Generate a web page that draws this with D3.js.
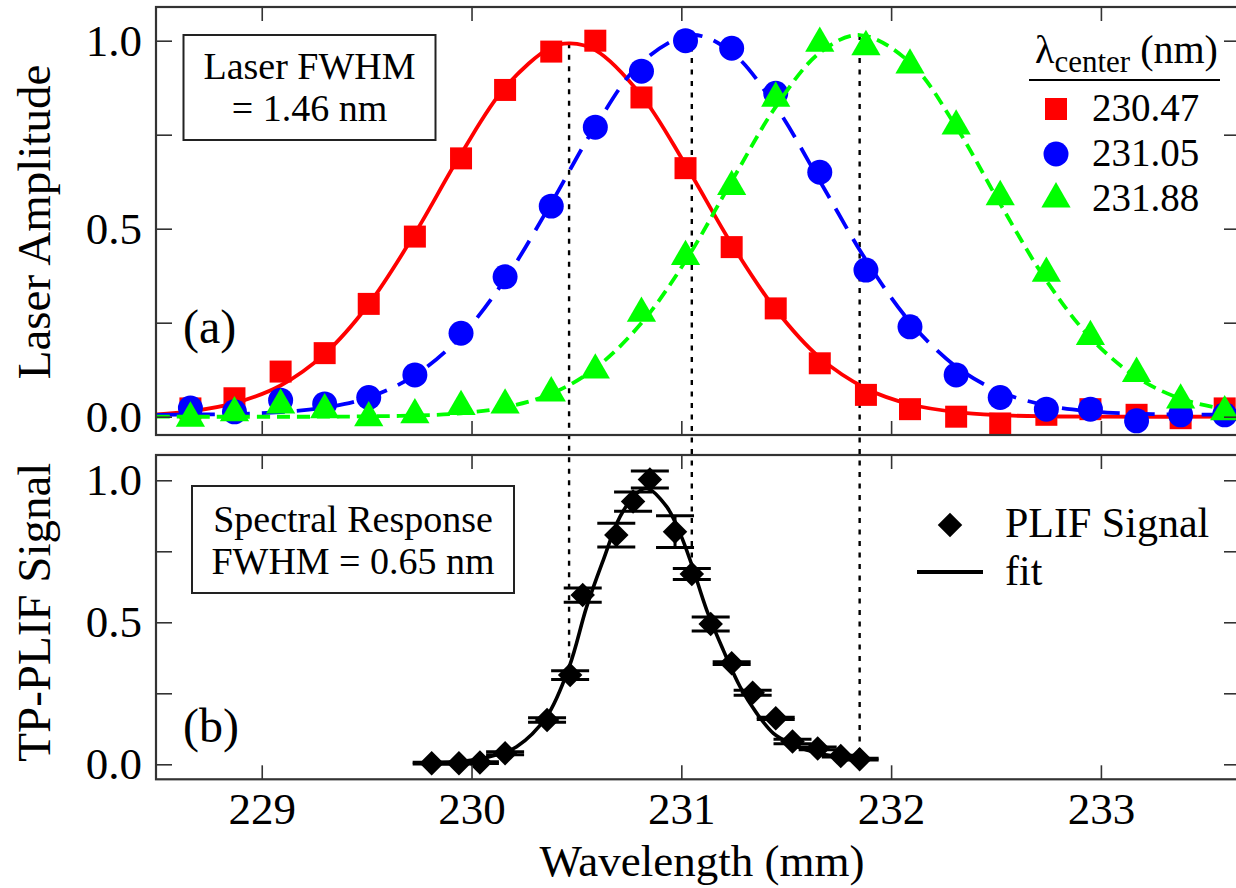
<!DOCTYPE html>
<html><head><meta charset="utf-8">
<script src="https://cdn.jsdelivr.net/npm/d3@7"></script>
<style>
body{margin:0;background:#fff}
svg{display:block}
text{font-family:"Liberation Serif","Times New Roman",serif;fill:#000}
</style>
</head><body>
<svg id="chart" width="1236" height="888"></svg>
<script>
// ---------- data ----------
const wavelengths = [228.66,228.87,229.09,229.30,229.51,229.73,229.95,230.16,230.38,230.59,230.81,231.02,
                     231.24,231.45,231.66,231.88,232.09,232.31,232.52,232.74,232.95,233.17,233.38,233.59];
const laser23047 = [0.022,0.049,0.120,0.169,0.300,0.479,0.687,0.869,0.971,1.000,0.849,0.661,
                    0.451,0.288,0.142,0.058,0.020,0.000,-0.018,0.005,0.020,0.005,-0.004,0.022];
const laser23105 = [0.023,0.013,0.044,0.034,0.051,0.111,0.222,0.372,0.560,0.770,0.919,1.000,
                    0.980,0.860,0.650,0.390,0.239,0.111,0.051,0.020,0.020,-0.011,0.005,0.005];
const laser23188 = [-0.004,0.010,0.031,0.018,-0.003,0.005,0.027,0.031,0.063,0.124,0.275,0.426,
                    0.612,0.847,0.993,0.984,0.935,0.773,0.585,0.381,0.213,0.115,0.044,0.013];

// fitted curves, sampled along the drawn lines [wavelength, amplitude]
const fit23047 = [[228.50,0.006],[228.66,0.014],[228.87,0.036],[229.09,0.083],[229.30,0.167],[229.51,0.299],
  [229.73,0.487],[229.95,0.699],[230.16,0.876],[230.38,0.983],[230.47,0.993],[230.59,0.975],[230.81,0.854],
  [231.02,0.670],[231.24,0.459],[231.45,0.285],[231.66,0.157],[231.88,0.075],[232.09,0.033],[232.31,0.012],
  [232.52,0.004],[232.74,0.001],[232.95,0.000],[233.70,0.000]];
const fit23105 = [[228.50,0.005],[228.66,0.006],[228.87,0.007],[229.09,0.012],[229.30,0.024],[229.51,0.051],
  [229.73,0.110],[229.95,0.214],[230.16,0.365],[230.38,0.568],[230.59,0.772],[230.81,0.942],[231.05,1.015],
  [231.24,0.969],[231.45,0.825],[231.66,0.627],[231.88,0.417],[232.09,0.252],[232.31,0.133],[232.52,0.066],
  [232.74,0.030],[232.95,0.014],[233.17,0.008],[233.38,0.006],[233.70,0.005]];
const fit23188 = [[228.50,0.000],[229.30,0.000],[229.51,0.001],[229.73,0.003],[229.95,0.009],[230.16,0.025],
  [230.38,0.061],[230.59,0.129],[230.81,0.249],[231.02,0.414],[231.24,0.626],[231.45,0.824],[231.66,0.968],
  [231.85,1.015],[232.09,0.942],[232.31,0.771],[232.52,0.566],[232.74,0.362],[232.95,0.210],[233.17,0.105],
  [233.38,0.048],[233.59,0.020],[233.70,0.012]];

const plifWavelength = [229.81,229.94,230.04,230.16,230.36,230.47,230.53,230.69,230.77,230.85,
                        230.97,231.05,231.14,231.24,231.34,231.45,231.53,231.65,231.76,231.85];
const plifSignal = [0.004,0.004,0.006,0.039,0.156,0.314,0.596,0.807,0.925,1.003,
                    0.819,0.670,0.494,0.356,0.252,0.162,0.080,0.056,0.029,0.018];
const plifError  = [0.003,0.003,0.003,0.005,0.008,0.015,0.025,0.042,0.034,0.030,
                    0.056,0.019,0.025,0.005,0.009,0.004,0.008,0.005,0.003,0.003];
const plifFit = [[229.81,0.006],[229.94,0.010],[230.056,0.021],[230.215,0.062],[230.358,0.168],[230.466,0.344],
  [230.549,0.555],[230.628,0.719],[230.708,0.872],[230.787,0.954],[230.835,0.972],[230.930,0.907],
  [230.994,0.813],[231.050,0.702],[231.121,0.543],[231.200,0.402],[231.280,0.273],[231.359,0.180],
  [231.439,0.109],[231.518,0.074],[231.598,0.050],[231.693,0.033],[231.789,0.021],[231.85,0.017]];

const centerLineWl = [230.465, 231.05, 231.85];
const centerLineTop = [0.993, 1.015, 1.015];
const centerLineBottom = [0.34, 0.70, 0.017];

const legendLabels = ["230.47","231.05","231.88"];
const xTicks = [229,230,231,232,233];
const yTicks = [0,0.25,0.5,0.75,1.0];

// ---------- layout ----------
const svg = d3.select("#chart");
const L = 156, R = 1240;
const topP = {t:7, b:435};
const botP = {t:455, b:779.3};

const x = d3.scaleLinear().domain([228.496, 233.663]).range([L, R]);
const yA = d3.scaleLinear().domain([-0.0487, 1.0896]).range([topP.b, topP.t]);
const yB = d3.scaleLinear().domain([-0.0528, 1.089]).range([botP.b, botP.t]);

const defs = svg.append("defs");
defs.append("clipPath").attr("id","clipA").append("rect")
  .attr("x",L).attr("y",topP.t).attr("width",R-L).attr("height",topP.b-topP.t);
defs.append("clipPath").attr("id","clipB").append("rect")
  .attr("x",L).attr("y",botP.t).attr("width",R-L).attr("height",botP.b-botP.t);

const fmt = d => (Math.abs(d*2 - Math.round(d*2)) < 1e-9) ? d3.format(".1f")(d) : "";

function panelAxes(p, y, showX) {
  const g = svg.append("g");
  const la = g.append("g").attr("transform",`translate(${L},0)`)
    .call(d3.axisLeft(y).tickValues(yTicks).tickSizeInner(-16).tickSizeOuter(0).tickPadding(14).tickFormat(fmt));
  la.selectAll("text").style("font-size","45px").style("font-family","Liberation Serif").attr("fill","#000");
  g.append("g").attr("transform",`translate(${R},0)`)
    .call(d3.axisRight(y).tickValues(yTicks).tickSizeInner(-16).tickSizeOuter(0).tickFormat(""));
  g.append("g").attr("transform",`translate(0,${p.t})`)
    .call(d3.axisTop(x).tickValues(xTicks).tickSizeInner(-14).tickSizeOuter(0).tickFormat(""));
  const ba = g.append("g").attr("transform",`translate(0,${p.b})`)
    .call(d3.axisBottom(x).tickValues(xTicks).tickSizeInner(-14).tickSizeOuter(0).tickPadding(13)
      .tickFormat(showX ? d3.format("d") : ""));
  ba.selectAll("text").style("font-size","45px").style("font-family","Liberation Serif").attr("fill","#000");
  g.selectAll(".domain").remove();
  g.selectAll(".tick line").attr("stroke","#333").attr("stroke-width",1.6);
  g.append("rect").attr("x",L).attr("y",p.t).attr("width",R-L).attr("height",p.b-p.t)
    .attr("fill","none").attr("stroke","#333").attr("stroke-width",2.2);
}

// dotted centre lines (spanning both panels)
centerLineWl.forEach((w,i) => {
  svg.append("line")
    .attr("x1",x(w)).attr("x2",x(w))
    .attr("y1",yA(centerLineTop[i])).attr("y2",yB(centerLineBottom[i]))
    .attr("stroke","#000").attr("stroke-width",2.4).attr("stroke-dasharray","5,6.5");
});

// ---------- panel (a) ----------
const gA = svg.append("g").attr("clip-path","url(#clipA)");
const lineA = d3.line().x(d=>x(d[0])).y(d=>yA(d[1])).curve(d3.curveCatmullRom.alpha(0.5));
const series = [
  {vals:laser23047, fit:fit23047, color:"#ff0000", dash:null, sym:d3.symbolSquare, size:484},
  {vals:laser23105, fit:fit23105, color:"#0000ff", dash:"23,12", sym:d3.symbolCircle, size:490},
  {vals:laser23188, fit:fit23188, color:"#00ff00", dash:"13,7", sym:d3.symbolTriangle, size:370}
];
series.forEach(s => {
  gA.append("path").datum(s.fit).attr("d",lineA).attr("fill","none")
    .attr("stroke",s.color).attr("stroke-width",3.8).attr("stroke-dasharray",s.dash);
  gA.selectAll(null).data(wavelengths.map((w,i)=>[w,s.vals[i]])).enter().append("path")
    .attr("d",d3.symbol().type(s.sym).size(s.size))
    .attr("transform",d=>`translate(${x(d[0])},${yA(d[1])})`)
    .attr("fill",s.color);
});

// ---------- panel (b) ----------
const gB = svg.append("g").attr("clip-path","url(#clipB)");
const lineB = d3.line().x(d=>x(d[0])).y(d=>yB(d[1])).curve(d3.curveCatmullRom.alpha(0.5));
gB.append("path").datum(plifFit).attr("d",lineB).attr("fill","none")
  .attr("stroke","#000").attr("stroke-width",3.6);
const plif = plifWavelength.map((w,i)=>({w, v:plifSignal[i], e:plifError[i]}));
const eb = gB.selectAll(null).data(plif).enter().append("g");
const cap = 19;
eb.append("line").attr("x1",d=>x(d.w)).attr("x2",d=>x(d.w))
  .attr("y1",d=>yB(d.v-d.e)).attr("y2",d=>yB(d.v+d.e)).attr("stroke","#000").attr("stroke-width",3);
eb.append("line").attr("x1",d=>x(d.w)-cap).attr("x2",d=>x(d.w)+cap)
  .attr("y1",d=>yB(d.v+d.e)).attr("y2",d=>yB(d.v+d.e)).attr("stroke","#000").attr("stroke-width",3);
eb.append("line").attr("x1",d=>x(d.w)-cap).attr("x2",d=>x(d.w)+cap)
  .attr("y1",d=>yB(d.v-d.e)).attr("y2",d=>yB(d.v-d.e)).attr("stroke","#000").attr("stroke-width",3);
gB.selectAll(null).data(plif).enter().append("path")
  .attr("d",d3.symbol().type(d3.symbolSquare).size(300))
  .attr("transform",d=>`translate(${x(d.w)},${yB(d.v)}) rotate(45)`)
  .attr("fill","#000");

// axes & frames
panelAxes(topP, yA, false);
panelAxes(botP, yB, true);

// ---------- annotations ----------
svg.append("rect").attr("x",183.5).attr("y",35).attr("width",252).attr("height",105)
  .attr("fill","#fff").attr("stroke","#222").attr("stroke-width",2);
svg.append("text").attr("x",309.5).attr("y",78.5).attr("text-anchor","middle").style("font-size","38px").text("Laser FWHM");
svg.append("text").attr("x",309.5).attr("y",121).attr("text-anchor","middle").style("font-size","38px").text("= 1.46 nm");
svg.append("text").attr("x",183).attr("y",343).style("font-size","48px").text("(a)");

svg.append("rect").attr("x",192).attr("y",486).attr("width",322).attr("height",107)
  .attr("fill","#fff").attr("stroke","#222").attr("stroke-width",2);
svg.append("text").attr("x",353).attr("y",531.5).attr("text-anchor","middle").style("font-size","38px").text("Spectral Response");
svg.append("text").attr("x",353).attr("y",573.5).attr("text-anchor","middle").style("font-size","38px").text("FWHM = 0.65 nm");
svg.append("text").attr("x",183).attr("y",742).style("font-size","48px").text("(b)");

// legend (a)
const lt = svg.append("text").attr("x",1035).attr("y",63).style("font-size","40px");
lt.append("tspan").text("λ");
lt.append("tspan").attr("dy",9).style("font-size","31px").text("center");
lt.append("tspan").attr("dy",-9).text(" (nm)");
svg.append("line").attr("x1",1029).attr("x2",1220).attr("y1",80).attr("y2",80)
  .attr("stroke","#000").attr("stroke-width",2.2);
series.forEach((s,i) => {
  const yy = 109 + i*45;
  svg.append("path").attr("d",d3.symbol().type(s.sym).size(s.size))
    .attr("transform",`translate(1056,${yy})`).attr("fill",s.color);
  svg.append("text").attr("x",1092).attr("y",yy+12).style("font-size","39px").text(legendLabels[i]);
});

// legend (b)
svg.append("path").attr("d",d3.symbol().type(d3.symbolSquare).size(300))
  .attr("transform","translate(950,525) rotate(45)").attr("fill","#000");
svg.append("text").attr("x",1005).attr("y",537).style("font-size","42px").text("PLIF Signal");
svg.append("line").attr("x1",917).attr("x2",983).attr("y1",572).attr("y2",572)
  .attr("stroke","#000").attr("stroke-width",3.8);
svg.append("text").attr("x",1005).attr("y",585).style("font-size","42px").text("fit");

// axis titles
svg.append("text").attr("transform",`translate(50,${(topP.t+topP.b)/2+1}) rotate(-90)`)
  .attr("text-anchor","middle").style("font-size","47px").text("Laser Amplitude");
svg.append("text").attr("transform",`translate(50,${(botP.t+botP.b)/2-5}) rotate(-90)`)
  .attr("text-anchor","middle").style("font-size","47px").text("TP-PLIF Signal");
svg.append("text").attr("x",702).attr("y",876).attr("text-anchor","middle").style("font-size","45px").text("Wavelength (mm)");
</script>
</body></html>
